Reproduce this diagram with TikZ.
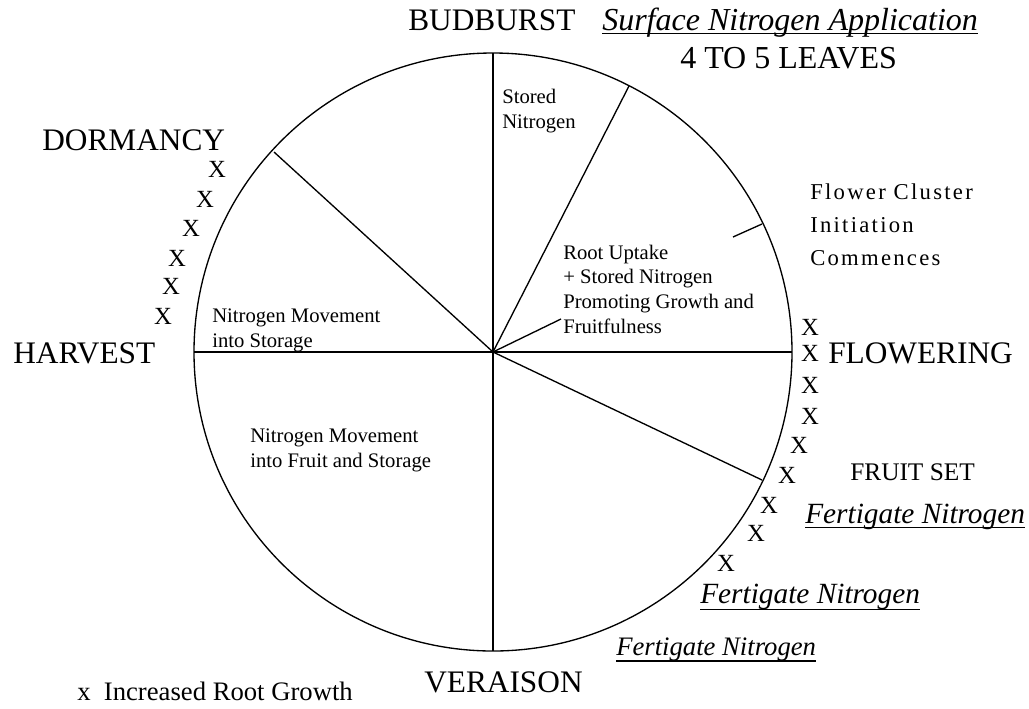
\documentclass[tikz,border=0pt]{standalone}
\usepackage{fontspec}
\setmainfont{Liberation Serif}
\newfontfamily\widefont[LetterSpace=10]{Liberation Serif}
\begin{document}
\begin{tikzpicture}[x=0.75pt,y=-0.75pt,
  stage/.style={inner sep=0pt, anchor=base west, font=\fontsize{23.5}{27}\selectfont},
  app/.style={inner sep=0pt, anchor=base west, font=\fontsize{22}{26}\selectfont\itshape},
  note/.style={inner sep=0pt, anchor=base west, align=left, font=\fontsize{15.5}{18.4}\selectfont},
  wide/.style={inner sep=0pt, anchor=base west, align=left, font=\fontsize{17}{24.5}\selectfont\widefont},
  xmark/.style={inner sep=0pt, font=\fontsize{18.5}{20}\selectfont},
  spoke/.style={line width=1pt},
  uline/.style={line width=1pt}
]
\useasboundingbox (0,0) rectangle (1029,708);
% geometry
\coordinate (C) at (493,352);
\coordinate (T) at (493,53);
\coordinate (B) at (493,651);
\coordinate (L) at (194,352);
\coordinate (R) at (792,352);
\coordinate (NE) at (629,86);
\coordinate (NW) at (274,152);
\coordinate (SE) at (762,480);
\coordinate (F) at (561,319);
\coordinate (TK1) at (733,237);
\coordinate (TK2) at (762,224);
\draw[spoke] (C) circle[radius=224.25pt];
\draw[spoke] (T) -- (B);
\draw[spoke] (L) -- (R);
\draw[spoke] (C) -- (NE);
\draw[spoke] (C) -- (NW);
\draw[spoke] (C) -- (SE);
\draw[spoke] (C) -- (F);
\draw[spoke] (TK1) -- (TK2);
% stage labels
\node[stage] (budburst) at (408,30) {BUDBURST};
\node[stage, font=\fontsize{24}{27}\selectfont] (leaves) at (680,68) {4 TO 5 LEAVES};
\node[stage] (dormancy) at (42,150) {DORMANCY};
\node[stage] (harvest) at (13,363) {HARVEST};
\node[stage] (flowering) at (828,363) {FLOWERING};
\node[stage] (veraison) at (424,692) {VERAISON};
\node[stage, font=\fontsize{19}{22}\selectfont] (fruitset) at (850,480) {FRUIT SET};
% applications
\node[app, font=\fontsize{24}{27}\selectfont\itshape] (surface) at (602,30) {Surface Nitrogen Application};
\node[app] (fert1) at (805,523) {Fertigate Nitrogen};
\node[app] (fert2) at (700,603) {Fertigate Nitrogen};
\node[app, font=\fontsize{20}{24}\selectfont\itshape] (fert3) at (616,655) {Fertigate Nitrogen};
\draw[uline] ([yshift=-2.5pt]surface.base west) -- ([yshift=-2.5pt]surface.base east);
\draw[uline] ([yshift=-3.5pt]fert1.base west) -- ([yshift=-3.5pt]fert1.base east);
\draw[uline] ([yshift=-5pt]fert2.base west) -- ([yshift=-5pt]fert2.base east);
\draw[uline] ([yshift=-4.5pt]fert3.base west) -- ([yshift=-4.5pt]fert3.base east);
% notes (base = baseline of last line)
\node[note] (stored) at (502,128) {Stored\\Nitrogen};
\node[note] (uptake) at (563,333) {Root Uptake\\+ Stored Nitrogen\\Promoting Growth and\\Fruitfulness};
\node[note] (tostorage) at (212,347) {Nitrogen Movement\\into Storage};
\node[note] (tofruit) at (250,467) {Nitrogen Movement\\into Fruit and Storage};
\node[wide] (cluster) at (810,265) {Flower Cluster\\Initiation\\Commences};
% root growth marks, left
\node[xmark] (xl1) at (217,169) {X};
\node[xmark] (xl2) at (205,199) {X};
\node[xmark] (xl3) at (191,228) {X};
\node[xmark] (xl4) at (177,258) {X};
\node[xmark] (xl5) at (171,286) {X};
\node[xmark] (xl6) at (163,316) {X};
% root growth marks, right
\node[xmark] (xr1) at (810,327) {X};
\node[xmark] (xr2) at (810,353) {X};
\node[xmark] (xr3) at (810,385) {X};
\node[xmark] (xr4) at (810,416) {X};
\node[xmark] (xr5) at (799,445) {X};
\node[xmark] (xr6) at (787,475) {X};
\node[xmark] (xr7) at (769,505) {X};
\node[xmark] (xr8) at (756,533) {X};
\node[xmark] (xr9) at (726,563) {X};
% legend
\node[stage, font=\fontsize{20}{24}\selectfont] (legend) at (77,700) {x\ \ Increased Root Growth};
\end{tikzpicture}
\end{document}
